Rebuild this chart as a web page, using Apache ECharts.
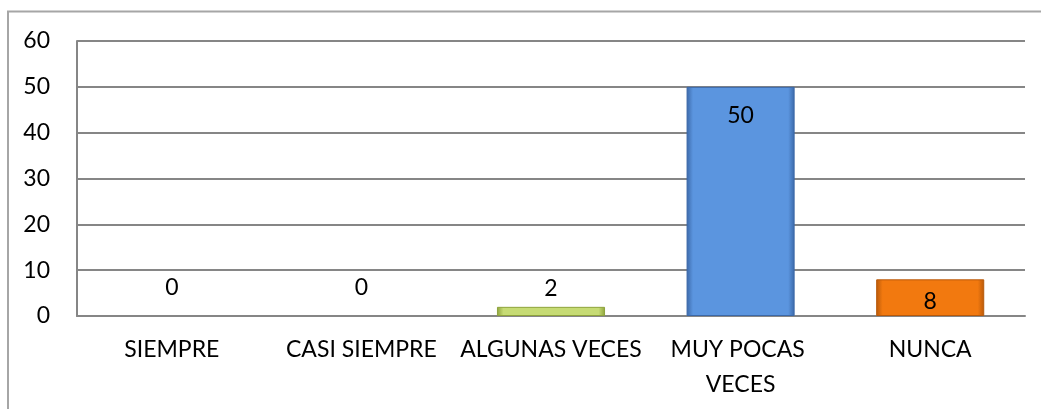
<!DOCTYPE html>
<html>
<head>
<meta charset="utf-8">
<script src="https://cdn.jsdelivr.net/npm/echarts@6/dist/echarts.min.js"></script>
<style>
  html, body { margin: 0; padding: 0; background: #fff; }
  #chart { width: 1041px; height: 409px; }
</style>
</head>
<body>
<div id="chart"></div>
<script>
// categorias y valores
const categories = ['SIEMPRE', 'CASI SIEMPRE', 'ALGUNAS VECES', 'MUY POCAS VECES', 'NUNCA'];
const values = [0, 0, 2, 50, 8];
const yTicks = [0, 10, 20, 30, 40, 50, 60];

const FONT = 'Lato, "Open Sans", sans-serif';
const FS = 23;

// colores por barra (0 no se ve)
const fills = ['#5b9bd5', '#5b9bd5', '#c6db74', '#5b95df', '#f2790f'];
const borders = ['#3f6fb0', '#3f6fb0', '#8ea33c', '#3b68a8', '#b8590a'];

const chart = echarts.init(document.getElementById('chart'));

const barData = values.map(function (v, i) {
  // etiquetas: dentro de la barra si es alta, encima si es corta
  let label;
  if (v >= 8) {
    label = { position: v > 20 ? 'insideTop' : 'inside', distance: 17, offset: v > 20 ? [0, 0] : [0, 4] };
  } else {
    label = { position: 'top', distance: v === 0 ? 17 : 7 };
  }
  const item = {
    color: new echarts.graphic.LinearGradient(0, 0, 1, 0, [
      { offset: 0, color: borders[i] },
      { offset: 0.06, color: fills[i] },
      { offset: 0.94, color: fills[i] },
      { offset: 1, color: borders[i] }
    ]),
    borderColor: borders[i],
    borderWidth: 1
  };
  if (v === 0) {
    item.color = 'transparent';
    item.borderWidth = 0;
  }
  return { value: v, itemStyle: item, label: label };
});

chart.setOption({
  animation: false,
  graphic: [{
    type: 'polyline',
    shape: { points: [[8, 420], [8, 11.5], [1045, 11.5]] },
    style: { stroke: '#a6a6a6', lineWidth: 2, fill: null },
    silent: true
  }],
  grid: { left: 77, right: 16, top: 41, bottom: 93 },
  xAxis: {
    type: 'category',
    data: categories,
    axisLine: { lineStyle: { color: '#868686', width: 2 } },
    axisTick: { show: false },
    axisLabel: {
      interval: 0,
      margin: 16,
      width: 185,
      overflow: 'break',
      color: '#000',
      fontFamily: FONT,
      fontSize: FS,
      lineHeight: 35
    }
  },
  yAxis: {
    type: 'value',
    min: yTicks[0],
    max: yTicks[yTicks.length - 1],
    interval: 10,
    axisLine: { show: true, lineStyle: { color: '#868686', width: 2 } },
    axisTick: { show: false },
    splitLine: { lineStyle: { color: '#868686', width: 2 } },
    axisLabel: { color: '#000', fontFamily: FONT, fontSize: FS, margin: 27 }
  },
  series: [{
    type: 'bar',
    data: barData,
    barWidth: '57%',
    label: {
      show: true,
      color: '#000',
      fontFamily: FONT,
      fontSize: FS
    }
  }]
});
</script>
</body>
</html>
